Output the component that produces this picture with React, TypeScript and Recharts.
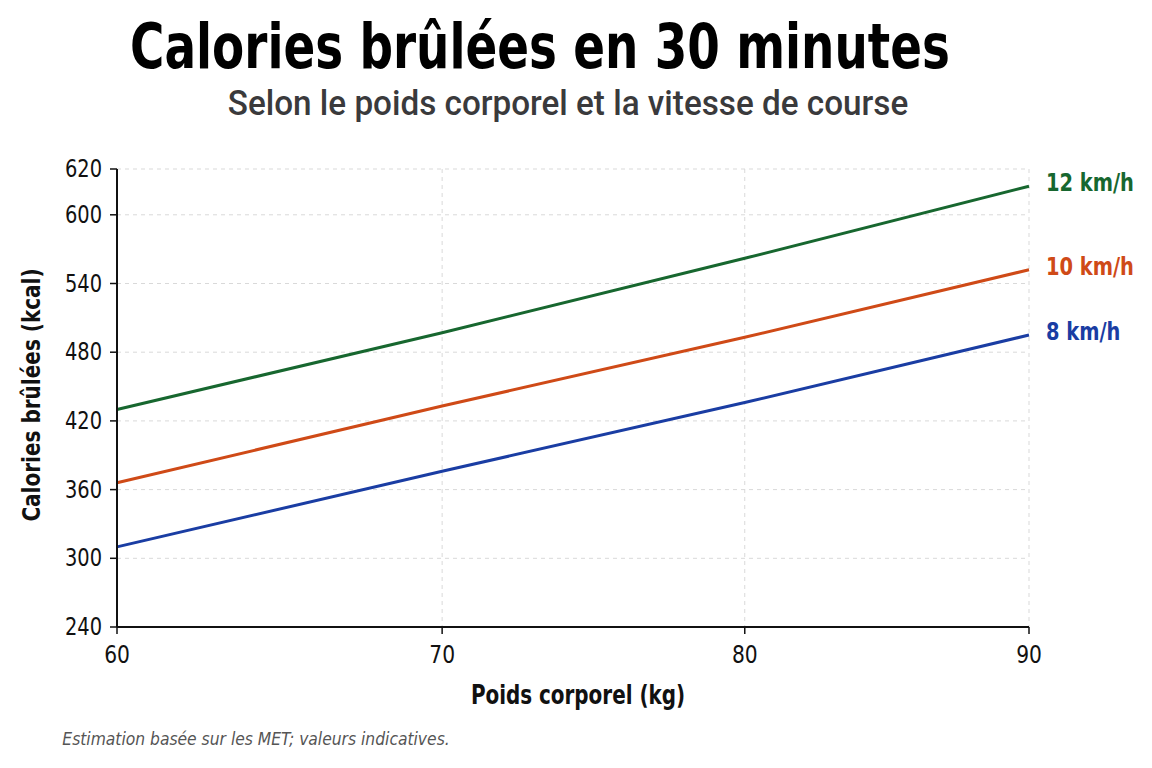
import React from "react";
import {
  LineChart,
  Line,
  XAxis,
  YAxis,
  CartesianGrid,
  LabelList,
} from "recharts";

// Body weight (kg) on the x axis
const weights = [60, 70, 80, 90];

// Calories burned in 30 minutes (kcal) per running speed
const speed8 = [310, 376, 436, 495];
const speed10 = [366, 433, 493, 552];
const speed12 = [430, 497, 562, 625];

const seriesNames = ["8 km/h", "10 km/h", "12 km/h"];
const seriesColors = ["#1a3da3", "#cf4a17", "#17672f"];

// Axis ticks and their printed labels
const xTicks = [60, 70, 80, 90];
const yTicks = [240, 300, 360, 420, 480, 540, 600, 640];
const yTickLabels = ["240", "300", "360", "420", "480", "540", "600", "620"];

const data = weights.map((w, i) => ({
  weight: w,
  s8: speed8[i],
  s10: speed10[i],
  s12: speed12[i],
}));

const FONT = "'DejaVu Sans Condensed', 'DejaVu Sans', sans-serif";
const SQUEEZE = 0.9;

// Narrowed SVG text used for tick labels and series labels
const NarrowText = ({ x, y, anchor, children, ...rest }: any) => (
  <text
    transform={`translate(${x},${y}) scale(${SQUEEZE},1)`}
    textAnchor={anchor}
    fontFamily={FONT}
    {...rest}
  >
    {children}
  </text>
);

const XTick = (props: any) => {
  const { x, y, payload } = props;
  return (
    <NarrowText x={x} y={y + 27} anchor="middle" fontSize={25} fill="#111">
      {String(payload.value)}
    </NarrowText>
  );
};

const YTick = (props: any) => {
  const { x, y, payload } = props;
  const idx = yTicks.indexOf(payload.value);
  return (
    <NarrowText x={x - 6} y={y + 8} anchor="end" fontSize={24} fill="#111">
      {idx >= 0 ? yTickLabels[idx] : String(payload.value)}
    </NarrowText>
  );
};

const makeEndLabel = (name: string, color: string) => (props: any) => {
  const { x, y, index } = props;
  if (index !== data.length - 1) return null;
  return (
    <NarrowText
      x={x + 17}
      y={y + 5}
      anchor="start"
      fill={color}
      fontWeight={700}
      fontSize={24}
    >
      {name}
    </NarrowText>
  );
};

// Centered HTML text, narrowed horizontally
const Caption = ({ cx, cy, sx, style, children }: any) => (
  <div
    style={{
      position: "absolute",
      left: cx,
      top: cy,
      whiteSpace: "nowrap",
      transform: `translate(-50%, -50%) scaleX(${sx})`,
      ...style,
    }}
  >
    {children}
  </div>
);

export default function App() {
  const keys = ["s8", "s10", "s12"];
  return (
    <div
      style={{
        position: "absolute",
        left: 0,
        top: 0,
        width: 1152,
        height: 768,
        background: "#ffffff",
        fontFamily: FONT,
        overflow: "hidden",
      }}
    >
      <Caption
        cx={540}
        cy={47}
        sx={0.84}
        style={{ fontSize: 62, fontWeight: 700, color: "#000", lineHeight: "74px" }}
      >
        Calories brûlées en 30 minutes
      </Caption>
      <Caption
        cx={568}
        cy={104}
        sx={0.95}
        style={{
          fontFamily: "Roboto, 'DejaVu Sans', sans-serif",
          fontSize: 35,
          fontWeight: 500,
          color: "#3a3a3c",
          lineHeight: "40px",
        }}
      >
        Selon le poids corporel et la vitesse de course
      </Caption>

      <div style={{ position: "absolute", left: 0, top: 0 }}>
        <LineChart
          width={1152}
          height={768}
          data={data}
          margin={{ top: 169, right: 123, bottom: 101, left: 57 }}
        >
          <CartesianGrid
            stroke="#d9d9d9"
            strokeDasharray="4 4"
            vertical={true}
            horizontal={true}
          />
          <XAxis
            dataKey="weight"
            type="number"
            scale="sqrt"
            domain={[60, 90]}
            ticks={xTicks}
            height={40}
            axisLine={{ stroke: "#111", strokeWidth: 2 }}
            tickLine={{ stroke: "#111", strokeWidth: 1.5 }}
            tickSize={7}
            tick={<XTick />}
          />
          <YAxis
            type="number"
            domain={[240, 640]}
            ticks={yTicks}
            width={60}
            interval={0}
            axisLine={{ stroke: "#111", strokeWidth: 2 }}
            tickLine={{ stroke: "#111", strokeWidth: 1.5 }}
            tickSize={7}
            tick={<YTick />}
          />
          {keys.map((k, i) => (
            <Line
              key={k}
              dataKey={k}
              name={seriesNames[i]}
              type="linear"
              stroke={seriesColors[i]}
              strokeWidth={3}
              dot={false}
              activeDot={false}
              isAnimationActive={false}
            >
              <LabelList
                dataKey={k}
                content={makeEndLabel(seriesNames[i], seriesColors[i])}
              />
            </Line>
          ))}
        </LineChart>
      </div>

      <Caption
        cx={31}
        cy={395}
        sx={1}
        style={{
          transform: "translate(-50%, -50%) rotate(-90deg) scaleX(0.89)",
          fontSize: 25,
          fontWeight: 700,
          color: "#111",
        }}
      >
        Calories brûlées (kcal)
      </Caption>
      <Caption
        cx={578}
        cy={694}
        sx={0.82}
        style={{ fontSize: 27, fontWeight: 700, color: "#111" }}
      >
        Poids corporel (kg)
      </Caption>
      <Caption
        cx={256}
        cy={738}
        sx={0.96}
        style={{ fontSize: 18, fontStyle: "italic", color: "#555" }}
      >
        Estimation basée sur les MET; valeurs indicatives.
      </Caption>
    </div>
  );
}
